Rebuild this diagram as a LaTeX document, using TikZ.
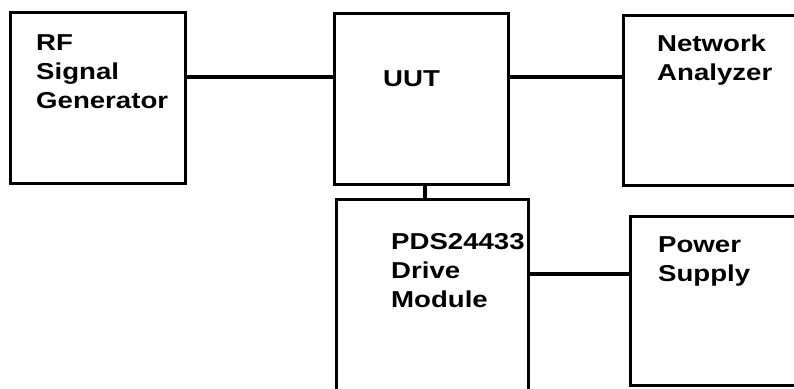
\documentclass[tikz,border=0pt]{standalone}
\usepackage{fontspec}
\newfontfamily\lblfont[FakeStretch=1.2]{Liberation Sans}
\begin{document}
\begin{tikzpicture}[x=1pt,y=-1pt,
  box/.style={draw=black, line width=3pt, rectangle, inner sep=0pt},
  wire/.style={draw=black, line width=3.2pt},
  lbl/.style={inner sep=0pt, anchor=base west, align=left,
    font={\lblfont\bfseries\fontsize{23}{29}\selectfont}}]
\useasboundingbox (0,0) rectangle (794,388);
\clip (0,0) rectangle (794,388);
% boxes
\node[box, minimum width=175pt, minimum height=171pt] (rf)  at (97.5,97.5) {};
\node[box, minimum width=174pt, minimum height=171pt] (uut) at (421,98.5) {};
\node[box, minimum width=200pt, minimum height=170pt] (na)  at (723,100) {};
\node[box, minimum width=192pt, minimum height=200pt] (pds) at (432,299) {};
\node[box, minimum width=200pt, minimum height=169pt] (ps)  at (730,300.5) {};
% labels (anchor is the baseline of the last line)
\node[lbl] (rft)  at (36,108)  {RF\\Signal\\Generator};
\node[lbl] (uutt) at (383,86)  {UUT};
\node[lbl] (nat)  at (657,80)  {Network\\Analyzer};
\node[lbl] (pdst) at (391,307) {PDS24433\\Drive\\Module};
\node[lbl] (pst)  at (658,281) {Power\\Supply};
% connectors
\coordinate (c1) at (0,77);
\draw[wire] (rf.east |- c1) -- (uut.west |- c1);
\draw[wire] (uut.east |- c1) -- (na.west |- c1);
\coordinate (c2) at (425,0);
\draw[wire] (uut.south -| c2) -- (pds.north -| c2);
\coordinate (c3) at (0,274);
\draw[wire] (pds.east |- c3) -- (ps.west |- c3);
\end{tikzpicture}
\end{document}
